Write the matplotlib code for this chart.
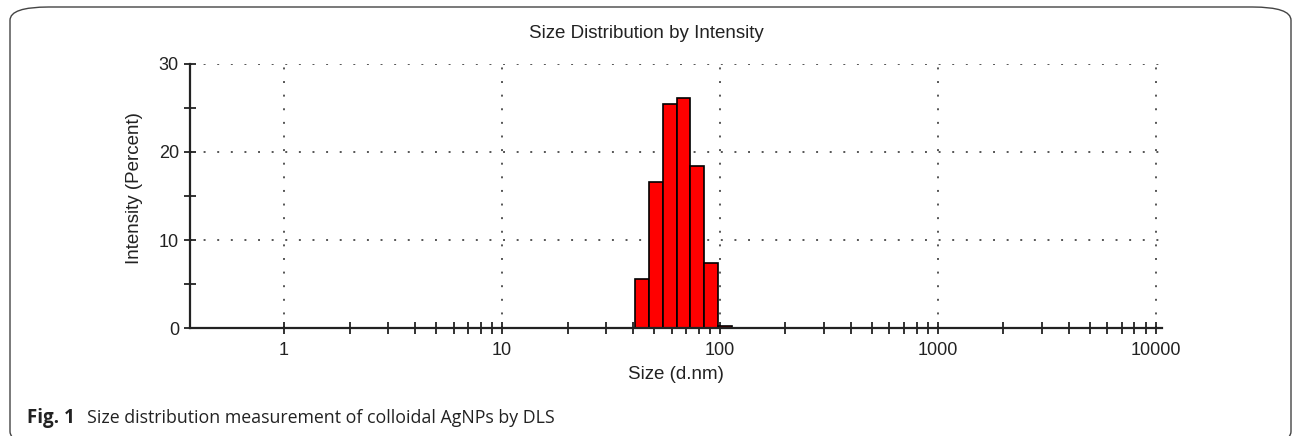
import numpy as np
import matplotlib
matplotlib.use("Agg")
import matplotlib.pyplot as plt
from matplotlib.patches import FancyBboxPatch
from matplotlib.ticker import FixedLocator, NullFormatter

# DLS size bins (d.nm): edges of each class and intensity (%) per class
bin_edges = [40.7, 47.2, 54.6, 63.3, 73.2, 84.8, 98.2, 113.7]
intensity = [5.6, 16.6, 25.5, 26.1, 18.4, 7.4, 0.2]
x_ticks = [1, 10, 100, 1000, 10000]
x_tick_labels = ["1", "10", "100", "1000", "10000"]
y_ticks = [0, 10, 20, 30]
y_minor = [5, 15, 25]

W, H = 1293, 436
plt.rcParams['font.family'] = ['Liberation Sans', 'DejaVu Sans']
ink = '#222222'

fig = plt.figure(figsize=(W / 100, H / 100), dpi=100)
ax = fig.add_axes([190 / W, 1 - 328 / H, (1162 - 190) / W, (328 - 64) / H])

left = np.array(bin_edges[:-1])
widths = np.diff(bin_edges)
ax.bar(left, intensity, width=widths, align='edge', color='#ff0000',
       edgecolor='black', linewidth=1.2, zorder=3)

ax.set_xscale('log')
ax.set_xlim(0.37, 10700)
ax.set_ylim(0, 30)

minor_x = [m * 10 ** d for d in range(0, 4) for m in range(2, 10)]
ax.xaxis.set_major_locator(FixedLocator(x_ticks))
ax.set_xticklabels(x_tick_labels)
ax.xaxis.set_minor_locator(FixedLocator(minor_x))
ax.xaxis.set_minor_formatter(NullFormatter())
ax.yaxis.set_major_locator(FixedLocator(y_ticks))
ax.yaxis.set_minor_locator(FixedLocator(y_minor))

ax.tick_params(which='both', direction='inout', length=8, width=1.3, color=ink)
ax.tick_params(axis='both', which='major', labelsize=13, labelcolor=ink)
ax.tick_params(axis='y', which='major', pad=4)
ax.tick_params(axis='x', which='major', pad=6)

for s in ['top', 'right']:
    ax.spines[s].set_visible(False)
for s in ['left', 'bottom']:
    ax.spines[s].set_linewidth(1.6)
    ax.spines[s].set_color(ink)
    ax.spines[s].set_zorder(4)

ax.grid(True, which='major', linestyle=(0, (1, 6)), color='#555555', linewidth=1.4, zorder=0)

fig.text(646 / W, 1 - 33.5 / H, "Size Distribution by Intensity", fontsize=13.5,
         color=ink, ha='center', va='center')
fig.text(676 / W, 1 - 374 / H, "Size (d.nm)", fontsize=13.5, color=ink,
         ha='center', va='center')
fig.text(134.5 / W, 1 - 188.5 / H, "Intensity (Percent)", fontsize=13.5, color=ink,
         ha='center', va='center', rotation=90)

# figure frame and caption
frame = FancyBboxPatch((10 / W, -0.02), 1281 / W, (H - 7) / H + 0.02,
                       boxstyle="round,pad=0,rounding_size=0.03",
                       transform=fig.transFigure, fill=False,
                       edgecolor='#444444', linewidth=1.0, mutation_aspect=H / W * 3)
fig.patches.append(frame)

cap_font = ['Open Sans', 'DejaVu Sans']
fig.text(27 / W, 1 - 423 / H, "Fig. 1", fontsize=13.5, fontweight='bold',
         family=cap_font, va='baseline', ha='left', color=ink)
fig.text(87 / W, 1 - 423 / H, "Size distribution measurement of colloidal AgNPs by DLS",
         fontsize=12.8, family=cap_font, va='baseline', ha='left', color=ink)

fig.savefig("out.png", dpi=100)
